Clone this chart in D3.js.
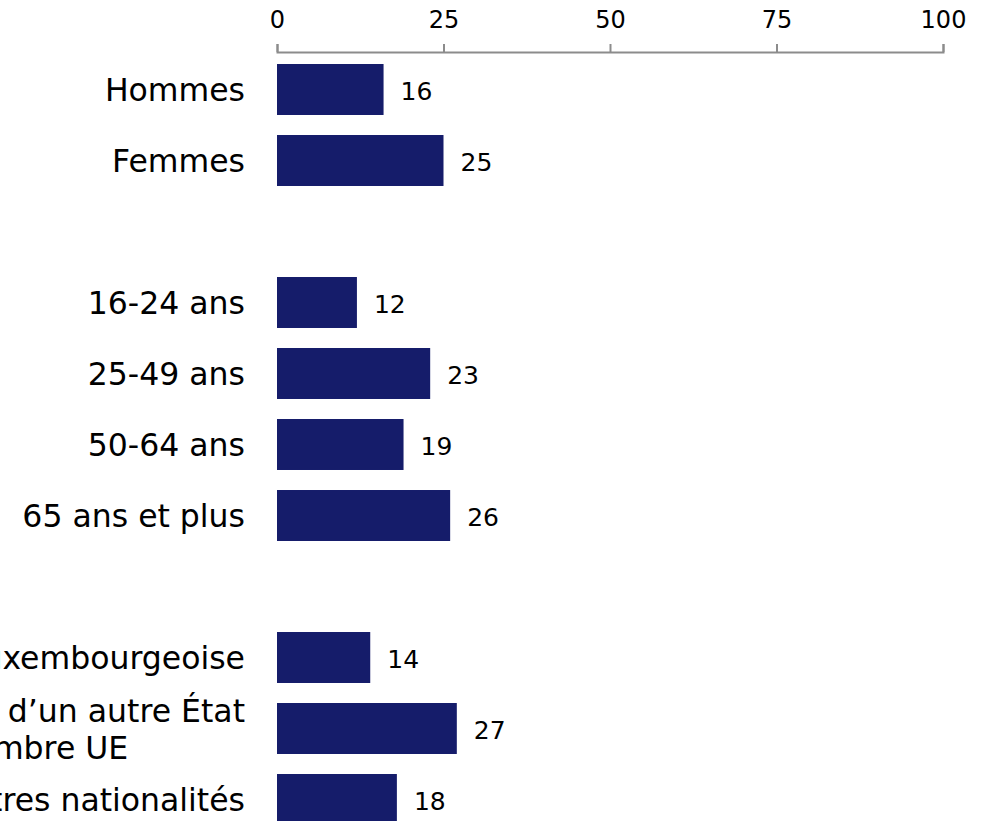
<!DOCTYPE html>
<html>
<head>
<meta charset="utf-8">
<script src="https://cdn.jsdelivr.net/npm/d3@7"></script>
<style>
  html, body { margin: 0; padding: 0; background: #fff; overflow: hidden; }
  svg { display: block; font-family: "DejaVu Sans", Verdana, sans-serif; }
</style>
</head>
<body>
<svg id="chart" width="986" height="821"></svg>
<script>
// categories (empty strings are the gaps between groups)
var categories = ["Hommes", "Femmes", "",
                  "16-24 ans", "25-49 ans", "50-64 ans", "65 ans et plus", " ",
                  "Nationalité luxembourgeoise", "Nationalité d\u2019un autre État|membre UE", "Autres nationalités"];
var values = [16, 25, null, 12, 23, 19, 26, null, 14, 27, 18];
var tickValues = [0, 25, 50, 75, 100];

var width = 986, height = 821;
var svg = d3.select("#chart");

var x = d3.scaleLinear().domain([0, 100]).range([277, 943]);
var y = d3.scaleBand().domain(categories).range([54, 835]).paddingInner(0.282).paddingOuter(0.141);

var data = categories.map(function(c, i){ return {cat: c, v: values[i]}; }).filter(d => d.v != null);

// axis on top
var axis = svg.append("g")
    .attr("transform", "translate(0,52)")
    .call(d3.axisTop(x).tickValues(tickValues).tickSize(8).tickPadding(16));
axis.selectAll("path, line").attr("stroke", "#8c8c8c").attr("stroke-width", 2);
axis.selectAll("text").attr("font-size", 24).attr("fill", "#000").attr("font-family", "DejaVu Sans, Verdana, sans-serif");

// bars
svg.append("g").selectAll("rect")
    .data(data)
    .join("rect")
    .attr("x", x(0))
    .attr("y", d => y(d.cat))
    .attr("width", d => x(d.v) - x(0))
    .attr("height", y.bandwidth())
    .attr("fill", "#151c6a");

// value labels
svg.append("g").selectAll("text")
    .data(data)
    .join("text")
    .attr("x", d => x(d.v) + 17)
    .attr("y", d => y(d.cat) + y.bandwidth()/2)
    .attr("dy", "0.4em")
    .attr("font-size", 25)
    .attr("fill", "#000")
    .text(d => d.v);

// category labels, right aligned; wrapped ones centred on the widest line
var labelRight = 245, lineH = 37;
var lab = svg.append("g");
data.forEach(function(d){
    var lines = d.cat.split("|");
    var cy = y(d.cat) + y.bandwidth()/2;
    var t = lab.append("text").attr("font-size", 31.5).attr("fill", "#000");
    var spans = lines.map(function(l, i){
        return t.append("tspan").attr("y", cy + (i - (lines.length-1)/2)*lineH).attr("dy", "0.37em").text(l);
    });
    if (lines.length == 1) {
        t.attr("text-anchor", "end");
        spans[0].attr("x", labelRight);
    } else {
        var w = spans.map(s => s.node().getComputedTextLength());
        var mx = d3.max(w);
        var center = labelRight - mx/2;
        t.attr("text-anchor", "middle");
        spans.forEach(s => s.attr("x", center));
    }
});
</script>
</body>
</html>
